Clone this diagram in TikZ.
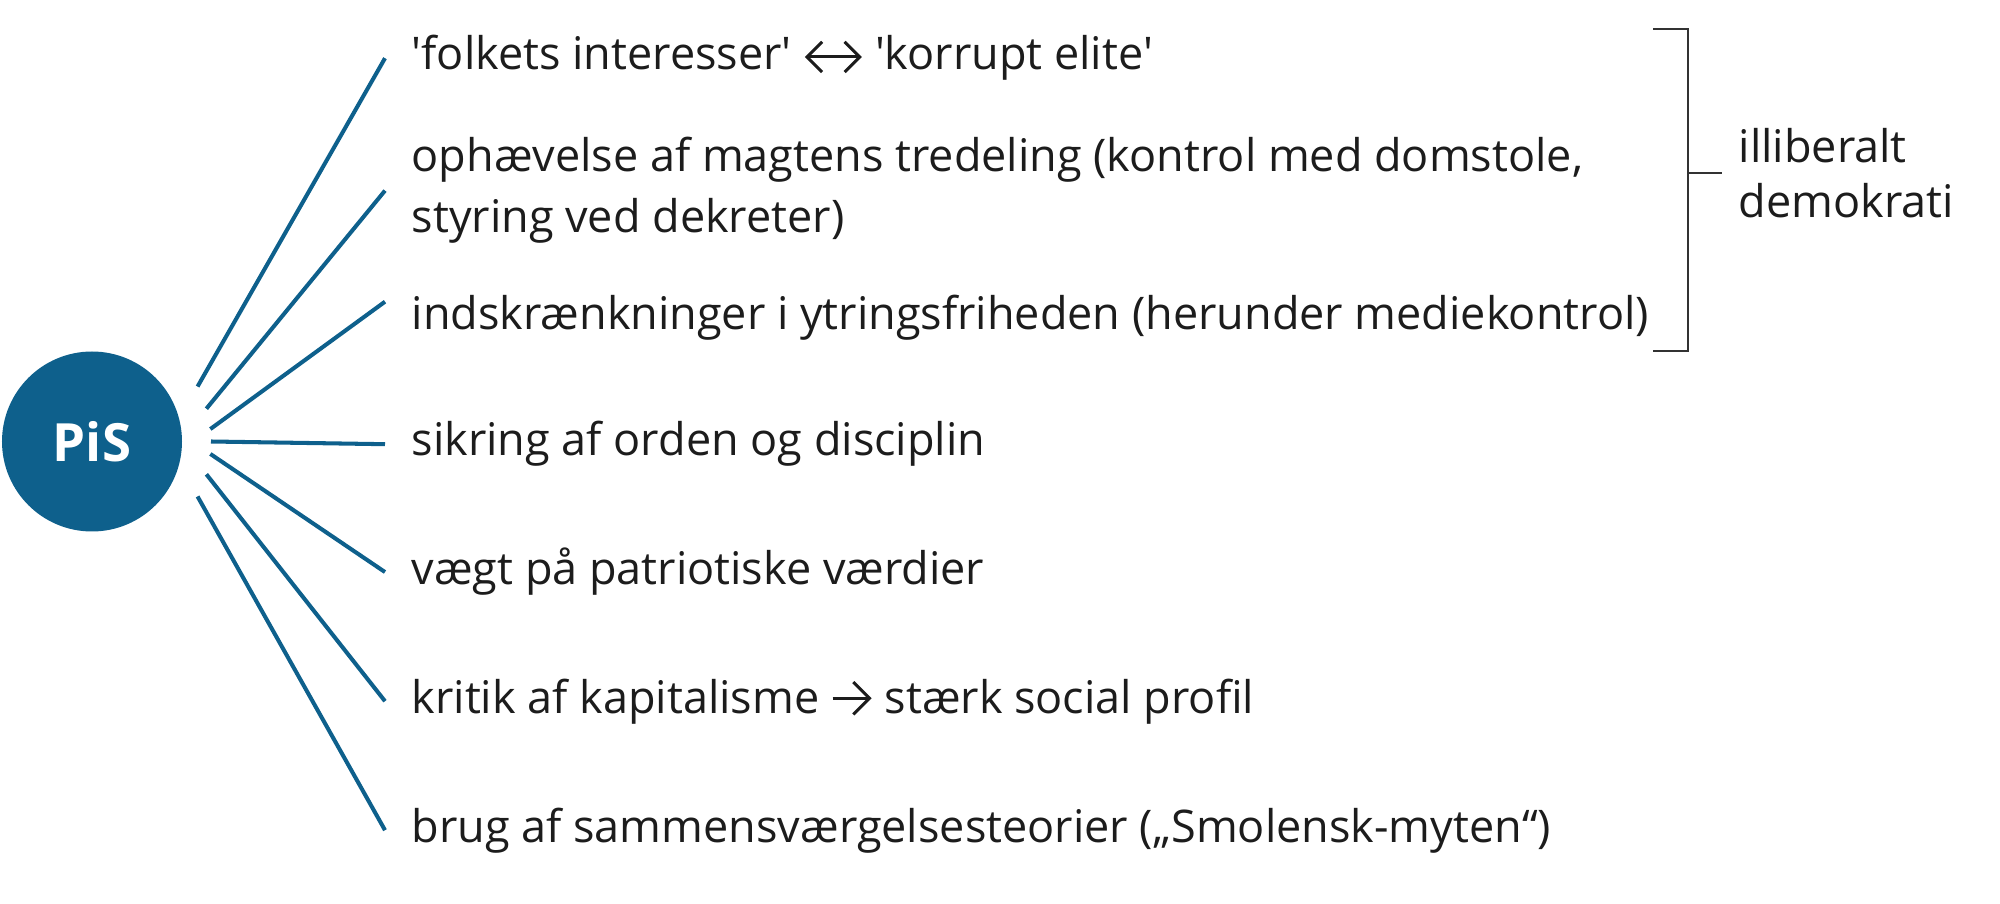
\documentclass[tikz,border=0pt]{standalone}
\usepackage{fontspec}
\setmainfont{Open Sans}
\usetikzlibrary{positioning,arrows.meta}

\definecolor{pisblue}{RGB}{14,96,140}
\definecolor{inktext}{RGB}{28,28,28}
\definecolor{bracketgray}{RGB}{50,50,50}

% Arrows in the running text, drawn with open chevron heads
\newcommand{\dualarrow}{\tikz[baseline=-3.7pt]
    \draw[inktext, line width=0.85pt, {Straight Barb[length=4.3pt,width=8.6pt]}-{Straight Barb[length=4.3pt,width=8.6pt]}] (0,0) -- (16.2pt,0);}
\newcommand{\toarrow}{\tikz[baseline=-4.2pt]
    \draw[inktext, line width=0.85pt, -{Straight Barb[length=4.6pt,width=9.2pt]}] (0,0) -- (11.1pt,0);}

\tikzset{
    spoke/.style={pisblue, line width=1.15pt},
    item/.style={anchor=base west, inner sep=0pt, text=inktext, align=left,
        font=\fontsize{12.8pt}{17.4pt}\selectfont},
    grouplabel/.style={inner sep=0pt, text=inktext, align=left,
        font=\fontsize{12.8pt}{15.6pt}\selectfont},
}

\begin{document}
\begin{tikzpicture}

    % Fix the canvas to the reference proportions (1 px = 0.01 cm)
    \useasboundingbox (0,0) rectangle (20,9.03);

    % Central party node
    \node[circle, fill=pisblue, minimum size=1.8cm, inner sep=0pt, text=white,
        font=\fontsize{15pt}{18pt}\selectfont\bfseries] (pis) at (0.92,4.615) {PiS};

    % Items, placed by their (last) baselines
    \node[item] (folk) at (4.11,8.33)
        {\textquotesingle folkets interesser\textquotesingle{} \dualarrow{} \textquotesingle korrupt elite\textquotesingle};
    \node[item] (magt) at (4.11,6.70)
        {ophævelse af magtens tredeling (kontrol med domstole,\\styring ved dekreter)};
    \node[item] (ytring) at (4.11,5.73)
        {indskrænkninger i ytringsfriheden (herunder mediekontrol)};
    \node[item] (orden) at (4.11,4.47) {sikring af orden og disciplin};
    \node[item] (patriot) at (4.11,3.18) {vægt på patriotiske værdier};
    \node[item] (kapital) at (4.11,1.90)
        {kritik af kapitalisme \toarrow{} stærk social profil};
    \node[item] (myte) at (4.11,0.61)
        {brug af sammensværgelsesteorier („Smolensk-myten“)};

    % Spokes from a ring round the circle to each item
    \draw[spoke] ([shift={(27.5:1.19)}]pis.center) -- ([xshift=-2.6mm]folk.west);
    \draw[spoke] ([shift={(16:1.19)}]pis.center) -- ([xshift=-2.6mm]magt.west);
    % this one ends higher, level with the top of the small letters
    \draw[spoke] ([shift={(6:1.19)}]pis.center) -- ([xshift=-2.6mm,yshift=1.65mm]ytring.west);
    \draw[spoke] ([shift={(0:1.19)}]pis.center) -- ([xshift=-2.6mm]orden.west);
    \draw[spoke] ([shift={(-6:1.19)}]pis.center) -- ([xshift=-2.6mm]patriot.west);
    \draw[spoke] ([shift={(-16:1.19)}]pis.center) -- ([xshift=-2.6mm]kapital.west);
    \draw[spoke] ([shift={(-27.5:1.19)}]pis.center) -- ([xshift=-2.6mm]myte.west);

    % Bracket grouping the first three items
    \draw[bracketgray, line width=0.8pt] (16.53,8.74) -- (16.88,8.74) -- (16.88,5.52) -- (16.53,5.52);
    \coordinate (brmid) at (16.88,7.30);
    \draw[bracketgray, line width=0.8pt] (brmid) -- ++(0.34,0) coordinate (brtip);
    \node[grouplabel, right=1.6mm of brtip] (illib) {illiberalt\\demokrati};

\end{tikzpicture}
\end{document}
